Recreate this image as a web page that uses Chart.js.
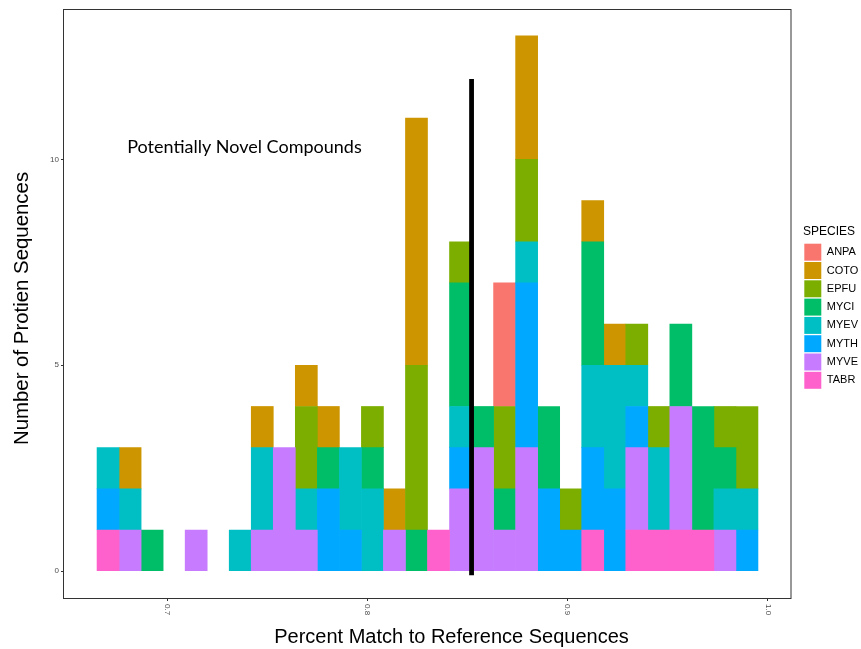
<!DOCTYPE html>
<html>
<head>
<meta charset="utf-8">
<script src="https://cdn.jsdelivr.net/npm/chart.js@4/dist/chart.umd.min.js"></script>
<style>
html,body{margin:0;padding:0;background:#fff;overflow:hidden}
#wrap{width:861px;height:649px;position:relative}
</style>
</head>
<body>
<div id="wrap"><canvas id="c" width="861" height="649"></canvas></div>
<script>
// ---- data ----
const binCenters = [0.6705,0.6815,0.6925,0.7035,0.7145,0.7255,0.7365,0.7475,0.7585,0.7695,
                    0.7805,0.7915,0.8025,0.8135,0.8245,0.8355,0.8465,0.8575,0.8685,0.8795,
                    0.8905,0.9015,0.9125,0.9235,0.9345,0.9455,0.9565,0.9675,0.9785,0.9895];
const speciesNames = ['ANPA','COTO','EPFU','MYCI','MYEV','MYTH','MYVE','TABR'];
const ANPA = [0,0,0,0,0,0,0,0,0,0, 0,0,0,0,0,0,0,0,3,0, 0,0,0,0,0,0,0,0,0,0];
const COTO = [0,1,0,0,0,0,0,1,0,1, 1,0,0,1,6,0,0,0,0,3, 0,0,1,1,0,0,0,0,0,0];
const EPFU = [0,0,0,0,0,0,0,0,0,2, 0,0,1,0,4,0,1,0,2,2, 0,1,0,0,1,1,0,0,1,2];
const MYCI = [0,0,1,0,0,0,0,0,0,0, 1,0,1,0,1,0,3,1,1,0, 2,0,3,0,0,0,2,3,1,0];
const MYEV = [1,1,0,0,0,0,1,2,0,1, 0,2,2,0,0,0,1,0,0,1, 0,0,2,3,1,2,0,0,1,1];
const MYTH = [1,0,0,0,0,0,0,0,0,0, 2,1,0,0,0,0,1,0,0,4, 2,1,2,2,1,0,0,0,0,1];
const MYVE = [0,1,0,0,1,0,0,1,3,1, 0,0,0,1,0,0,2,3,1,3, 0,0,0,0,2,0,3,0,1,0];
const TABR = [1,0,0,0,0,0,0,0,0,0, 0,0,0,0,0,1,0,0,0,0, 0,0,1,0,1,1,1,1,0,0];
const speciesValues = [ANPA, COTO, EPFU, MYCI, MYEV, MYTH, MYVE, TABR];
const speciesColors = ['#F8766D','#CD9600','#7CAE00','#00BE67','#00BFC4','#00A9FF','#C77CFF','#FF61CC'];
const xTicks = [0.7, 0.8, 0.9, 1.0];
const xTickLabels = ['0.7', '0.8', '0.9', '1.0'];
const yTicks = [0, 5, 10];
const cutoffX = 0.852;
const cutoffYRange = [-0.1, 11.95];
const annotationText = 'Potentially Novel Compounds';
const annotationAt = [0.7386, 10.15];
const xTitle = 'Percent Match to Reference Sequences';
const yTitle = 'Number of Protien Sequences';

// ---- chart ----
const FONT = "'Liberation Sans', Arial, Helvetica, sans-serif";
Chart.defaults.font.family = FONT;

const datasets = [];
for (let i = speciesNames.length - 1; i >= 0; i--) {
  datasets.push({
    type: 'bar',
    label: speciesNames[i],
    data: speciesValues[i].map(v => (v === 0 ? null : v)),
    backgroundColor: speciesColors[i],
    borderWidth: 0,
    barPercentage: 1,
    categoryPercentage: 1,
    stack: 'species'
  });
}
datasets.push({
  type: 'line',
  label: '',
  data: [{x: cutoffX, y: cutoffYRange[0]}, {x: cutoffX, y: cutoffYRange[1]}],
  borderColor: '#000',
  borderWidth: 4.8,
  pointRadius: 0,
  fill: false,
  stack: 'cutoff',
  order: -1
});

const overlay = {
  id: 'overlay',
  afterDraw(chart) {
    const {ctx, chartArea: ca, scales} = chart;
    ctx.save();
    // panel border
    ctx.strokeStyle = '#333';
    ctx.lineWidth = 1;
    ctx.strokeRect(ca.left - 0.5, ca.top + 0.5, ca.right - ca.left + 0.5, ca.bottom - ca.top);
    // x tick labels, rotated clockwise
    ctx.fillStyle = '#4d4d4d';
    ctx.font = "8px " + FONT;
    ctx.textAlign = 'left';
    ctx.textBaseline = 'middle';
    xTicks.forEach((v, i) => {
      const px = scales.x.getPixelForValue(v);
      ctx.save();
      ctx.translate(px, ca.bottom + 6);
      ctx.rotate(Math.PI / 2);
      ctx.fillText(xTickLabels[i], 0, 0);
      ctx.restore();
    });
    // axis titles
    ctx.fillStyle = '#000';
    ctx.font = "20px " + FONT;
    ctx.textAlign = 'center';
    ctx.textBaseline = 'middle';
    ctx.fillText(xTitle, (ca.left + ca.right) / 2 + 24, chart.height - 12);
    ctx.save();
    ctx.translate(22, (ca.top + ca.bottom) / 2 + 5);
    ctx.rotate(-Math.PI / 2);
    ctx.font = "20.4px " + FONT;
    ctx.fillText(yTitle, 0, 0);
    ctx.restore();
    // annotation
    ctx.fillStyle = '#000';
    ctx.font = "18px Lato, 'Open Sans', sans-serif";
    ctx.textAlign = 'center';
    ctx.textBaseline = 'alphabetic';
    ctx.fillText(annotationText, scales.x.getPixelForValue(annotationAt[0]), scales.y.getPixelForValue(annotationAt[1]));
    ctx.restore();
  }
};

const chart = new Chart(document.getElementById('c'), {
  type: 'bar',
  data: { labels: binCenters, datasets },
  options: {
    responsive: false,
    animation: false,
    events: [],
    layout: { padding: { top: 9, left: 0, right: 0, bottom: 0 } },
    plugins: {
      tooltip: { enabled: false },
      legend: {
        position: 'right',
        align: 'start',
        reverse: true,
        title: {
          display: true, text: 'SPECIES', color: '#000', position: 'start',
          font: { family: FONT, size: 12 },
          padding: { top: 217, bottom: 2 }
        },
        labels: {
          boxWidth: 17, boxHeight: 17, padding: 1.3, color: '#000',
          font: { family: FONT, size: 11 },
          filter: item => item.text !== ''
        }
      }
    },
    scales: {
      x: {
        type: 'linear',
        stacked: true,
        offset: false,
        min: 0.6485, max: 1.0115,
        afterBuildTicks: s => { s.ticks = xTicks.map(v => ({ value: v })); },
        afterFit: s => { s.height = 51; },
        ticks: { display: false },
        grid: { display: true, offset: false, drawOnChartArea: false, drawTicks: true, tickLength: 3, color: '#333', lineWidth: 1 },
        border: { display: false },
        title: { display: false }
      },
      y: {
        type: 'linear',
        stacked: true,
        min: -0.65, max: 13.65,
        afterBuildTicks: s => { s.ticks = yTicks.map(v => ({ value: v })); },
        afterFit: s => { s.width = 64; },
        ticks: { color: '#4d4d4d', font: { family: FONT, size: 8 }, padding: 2 },
        grid: { display: true, drawOnChartArea: false, drawTicks: true, tickLength: 3, color: '#333', lineWidth: 1 },
        border: { display: false },
        title: { display: false }
      },
      yPad: {
        type: 'linear',
        position: 'right',
        display: true,
        grid: { display: false },
        border: { display: false },
        ticks: { display: false },
        afterFit: s => { s.width = 12; }
      }
    }
  },
  plugins: [overlay]
});

// fix legend width so that the plot panel ends where the reference's does
const lg = chart.legend;
const baseFit = lg.fit.bind(lg);
lg.fit = function () { baseFit(); this.width = 58; };
chart.update();
</script>
</body>
</html>
